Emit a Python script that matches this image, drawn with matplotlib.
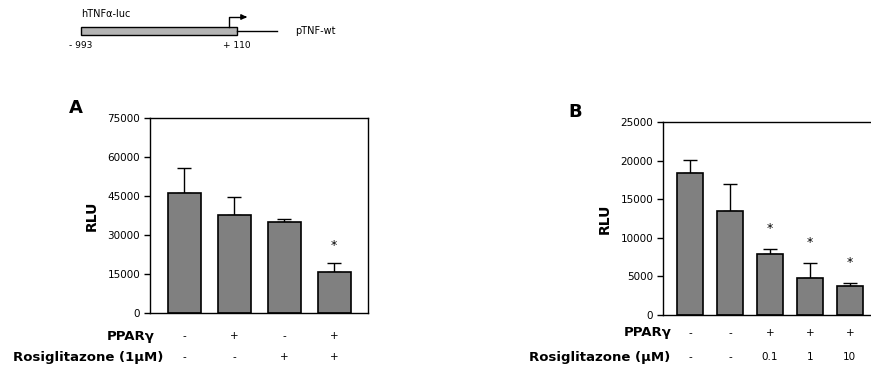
import numpy as np
import matplotlib.pyplot as plt
from matplotlib.patches import Rectangle

plt.rcParams['font.family'] = ['DejaVu Sans']

# panel A
a_mean = [46000, 37700, 35100, 15900]
a_err = [9600, 6800, 1100, 3200]
a_star = [False, False, False, True]
a_ppar = ['-', '+', '-', '+']
a_rosi = ['-', '-', '+', '+']
a_ticks = [0, 15000, 30000, 45000, 60000, 75000]

# panel B
b_mean = [18330, 13490, 7890, 4790, 3710]
b_err = [1800, 3500, 700, 1900, 400]
b_star = [False, False, True, True, True]
b_ppar = ['-', '-', '+', '+', '+']
b_rosi = ['-', '-', '0.1', '1', '10']
b_ticks = [0, 5000, 10000, 15000, 20000, 25000]

# construct diagram (bp)
prom_start, prom_end, line_end = -993, 110, 393
tss_arrow_end = 180

W, H = 871, 368
fig = plt.figure(figsize=(W / 100, H / 100), dpi=100)


def px_axes(x0, y0, x1, y1):
    return fig.add_axes([x0 / W, 1 - y1 / H, (x1 - x0) / W, (y1 - y0) / H])


# schematic of the reporter construct
ax0 = px_axes(0, 0, W, 60)
ax0.set_xlim(-993 - 81 / 0.1414, -993 + (W - 81) / 0.1414)
ax0.set_ylim(60, 0)
ax0.axis('off')
ax0.add_patch(Rectangle((prom_start, 26.7), prom_end - prom_start, 8.3,
                        facecolor='#b4b4b4', edgecolor='black', lw=1))
ax0.plot([prom_end, line_end], [31, 31], color='black', lw=1)
ax0.plot([110 - 55, 110 - 55, tss_arrow_end - 20], [26.7, 17, 17], color='black', lw=1)
ax0.annotate('', xy=(tss_arrow_end, 17), xytext=(tss_arrow_end - 30, 17),
             arrowprops=dict(arrowstyle='-|>', color='black', lw=1, mutation_scale=8))
ax0.text(prom_start, 14, 'hTNFα-luc', fontsize=7, va='center', ha='left')
ax0.text(line_end + 130, 31, 'pTNF-wt', fontsize=7, va='center', ha='left')
ax0.text(prom_start, 46, '- 993', fontsize=6.5, va='center', ha='center')
ax0.text(prom_end, 46, '+ 110', fontsize=6.5, va='center', ha='center')


def draw_panel(ax, mean, err, star, ppar, rosi, ticks, letter, rosi_label,
               star_gap, letter_xy, row_y, label_x):
    x = np.arange(len(mean))
    ax.bar(x, mean, width=0.66, color='#808080', edgecolor='black', lw=1.2, zorder=2)
    ax.errorbar(x, mean, yerr=[np.zeros(len(err)), err], fmt='none',
                ecolor='black', elinewidth=1, capsize=5, capthick=1, zorder=1)
    for xi, m, e, s in zip(x, mean, err, star):
        if s:
            ax.text(xi, m + e + star_gap, '*', ha='center', va='bottom', fontsize=9)
    ax.set_ylim(0, ticks[-1])
    ax.set_yticks(ticks)
    ax.set_xticks([])
    ax.tick_params(axis='y', labelsize=7.5, length=4, width=1, pad=3)
    for sp in ax.spines.values():
        sp.set_linewidth(1)
    ax.set_ylabel('RLU', fontsize=10, fontweight='bold', labelpad=6)
    ax.text(letter_xy[0], letter_xy[1], letter, transform=ax.transAxes,
            fontsize=13, fontweight='bold', ha='center', va='center')
    trans = ax.get_xaxis_transform()
    for xi, p, r in zip(x, ppar, rosi):
        ax.text(xi, row_y[0], p, transform=trans, ha='center', va='center', fontsize=7.5)
        ax.text(xi, row_y[1], r, transform=trans, ha='center', va='center', fontsize=7.5)
    ax.text(label_x[0], row_y[0], 'PPARγ', transform=ax.transAxes, ha='right',
            va='center', fontsize=9.5, fontweight='bold')
    ax.text(label_x[1], row_y[1], rosi_label, transform=ax.transAxes, ha='right',
            va='center', fontsize=9.5, fontweight='bold')


axA = px_axes(150, 118, 368, 313)
axA.set_xlim(-0.68, 3.68)
draw_panel(axA, a_mean, a_err, a_star, a_ppar, a_rosi, a_ticks, 'A',
           'Rosiglitazone (1µM)', 4400, (-0.34, 1.05), (-0.118, -0.226), (0.023, 0.06))

axB = px_axes(663, 122, 877, 315)
axB.set_xlim(-0.675, 4.68)
draw_panel(axB, b_mean, b_err, b_star, b_ppar, b_rosi, b_ticks, 'B',
           'Rosiglitazone (µM)', 1800, (-0.41, 1.05), (-0.093, -0.218), (0.04, 0.033))

fig.savefig('out.png', dpi=100)
